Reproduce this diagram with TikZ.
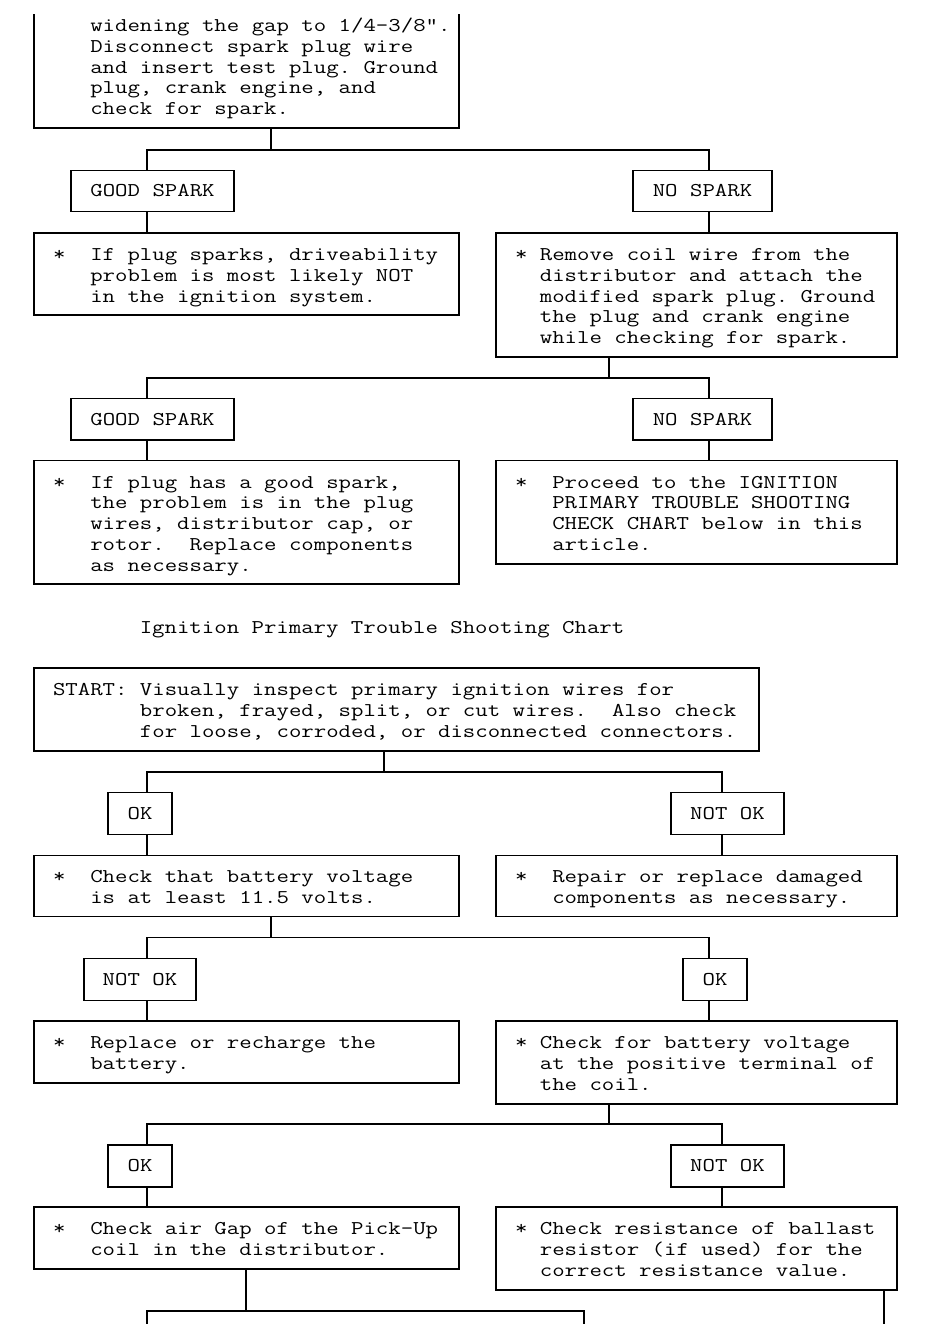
\documentclass[tikz,border=0pt]{standalone}
\usepackage{fontspec}
\setmonofont{Latin Modern Mono}[FakeStretch=1.237]
\newcommand\chartfont{\ttfamily\fontsize{19.5}{20.8}\selectfont\frenchspacing\lineskiplimit=-100pt}
\newcommand\topstrut{\rule{0pt}{16pt}}
\tikzset{
  conn/.style={line width=1.4pt, line cap=rect},
  box/.style={draw, line width=1.4pt, rectangle, inner sep=0pt, outer sep=0pt, anchor=north west},
  lbl/.style={box, font=\chartfont, text height=11.9pt, text depth=0pt},
  txt/.style={anchor=north west, inner sep=0pt, outer sep=0pt, align=left, font=\chartfont},
}
\begin{document}
\begin{tikzpicture}[x=1pt,y=-1pt]
\fill[white] (0,0) rectangle (946,1324);
\useasboundingbox (0,0) rectangle (946,1324);

% ---------- top part ----------
\node[inner sep=0pt, outer sep=0pt, anchor=north west, minimum width=425, minimum height=124] (b0) at (34,4) {};
\draw[conn] ([yshift=-11pt]b0.north west) -- (b0.south west) -- (b0.south east) -- ([yshift=-11pt]b0.north east);
\node[txt] (t0) at ([shift={(19,11.5)}]b0.north west) {\topstrut~~~widening the gap to 1/4-3/8".\\
~~~Disconnect spark plug wire\\
~~~and insert test plug. Ground\\
~~~plug, crank engine, and\\
~~~check for spark.};

\node[lbl, minimum width=163, minimum height=41] (gsA) at (71,170.5) {GOOD SPARK};
\node[lbl, minimum width=139, minimum height=41] (nsA) at (633,170.5) {NO SPARK};

\node[box, minimum width=425, minimum height=82] (b1) at (34,233) {};
\node[txt] (t1) at ([shift={(19,11.5)}]b1.north west) {\topstrut*~~If plug sparks, driveability\\
~~~problem is most likely NOT\\
~~~in the ignition system.};

\node[box, minimum width=401, minimum height=124] (b2) at (496,233) {};
\node[txt] (t2) at ([shift={(19,11.5)}]b2.north west) {\topstrut*~Remove coil wire from the\\
~~distributor and attach the\\
~~modified spark plug. Ground\\
~~the plug and crank engine\\
~~while checking for spark.};

\coordinate (jA) at (271,150);
\coordinate (jAl) at (147,150);
\coordinate (jAr) at (709,150);
\draw[conn] (b0.south -| jA) -- (jA);
\draw[conn] (gsA.north -| jAl) |- (jAr) -- (nsA.north -| jAr);
\draw[conn] (gsA.south -| jAl) -- (b1.north -| jAl);
\draw[conn] (nsA.south -| jAr) -- (b2.north -| jAr);

\node[lbl, minimum width=163, minimum height=41.5] (gsB) at (71,398.5) {GOOD SPARK};
\node[lbl, minimum width=139, minimum height=41.5] (nsB) at (633,398.5) {NO SPARK};

\node[box, minimum width=425, minimum height=123.5] (b3) at (34,460.5) {};
\node[txt] (t3) at ([shift={(19,11.5)}]b3.north west) {\topstrut*~~If plug has a good spark,\\
~~~the problem is in the plug\\
~~~wires, distributor cap, or\\
~~~rotor.~~Replace components\\
~~~as necessary.};

\node[box, minimum width=401, minimum height=103.5] (b4) at (496,460.5) {};
\node[txt] (t4) at ([shift={(19,11.5)}]b4.north west) {\topstrut*~~Proceed to the IGNITION\\
~~~PRIMARY TROUBLE SHOOTING\\
~~~CHECK CHART below in this\\
~~~article.};

\coordinate (jB) at (609,378);
\coordinate (jBl) at (147,378);
\coordinate (jBr) at (709,378);
\draw[conn] (b2.south -| jB) -- (jB);
\draw[conn] (gsB.north -| jBl) |- (jBr) -- (nsB.north -| jBr);
\draw[conn] (gsB.south -| jBl) -- (b3.north -| jBl);
\draw[conn] (nsB.south -| jBr) -- (b4.north -| jBr);

% ---------- title ----------
\node[anchor=base west, inner sep=0pt, font=\chartfont] (title) at (139.6,633.3) {Ignition Primary Trouble Shooting Chart};

% ---------- second chart ----------
\node[box, minimum width=725, minimum height=83] (b5) at (34,668) {};
\node[txt] (t5) at ([shift={(19,11.5)}]b5.north west) {\topstrut START: Visually inspect primary ignition wires for\\
~~~~~~~broken, frayed, split, or cut wires.~~Also check\\
~~~~~~~for loose, corroded, or disconnected connectors.};

\node[lbl, minimum width=64, minimum height=41.5] (okA) at (108,792.7) {OK};
\node[lbl, minimum width=113, minimum height=41.5] (nokA) at (671,792.7) {NOT OK};

\node[box, minimum width=425, minimum height=61.4] (b6) at (34,855.3) {};
\node[txt] (t6) at ([shift={(19,11.5)}]b6.north west) {\topstrut*~~Check that battery voltage\\
~~~is at least 11.5 volts.};

\node[box, minimum width=401, minimum height=61.4] (b7) at (496,855.3) {};
\node[txt] (t7) at ([shift={(19,11.5)}]b7.north west) {\topstrut*~~Repair or replace damaged\\
~~~components as necessary.};

\coordinate (jC) at (384,772);
\coordinate (jCl) at (147,772);
\coordinate (jCr) at (722,772);
\draw[conn] (b5.south -| jC) -- (jC);
\draw[conn] (okA.north -| jCl) |- (jCr) -- (nokA.north -| jCr);
\draw[conn] (okA.south -| jCl) -- (b6.north -| jCl);
\draw[conn] (nokA.south -| jCr) -- (b7.north -| jCr);

\node[lbl, minimum width=112, minimum height=41.5] (nokB) at (84,958.7) {NOT OK};
\node[lbl, minimum width=64, minimum height=41.5] (okB) at (683,958.7) {OK};

\node[box, minimum width=425, minimum height=62] (b8) at (34,1021) {};
\node[txt] (t8) at ([shift={(19,11.5)}]b8.north west) {\topstrut*~~Replace or recharge the\\
~~~battery.};

\node[box, minimum width=401, minimum height=83] (b9) at (496,1021) {};
\node[txt] (t9) at ([shift={(19,11.5)}]b9.north west) {\topstrut*~Check for battery voltage\\
~~at the positive terminal of\\
~~the coil.};

\coordinate (jD) at (271,937.7);
\coordinate (jDl) at (147,937.7);
\coordinate (jDr) at (709,937.7);
\draw[conn] (b6.south -| jD) -- (jD);
\draw[conn] (nokB.north -| jDl) |- (jDr) -- (okB.north -| jDr);
\draw[conn] (nokB.south -| jDl) -- (b8.north -| jDl);
\draw[conn] (okB.south -| jDr) -- (b9.north -| jDr);

\node[lbl, minimum width=64, minimum height=42] (okC) at (108,1145) {OK};
\node[lbl, minimum width=113, minimum height=42] (nokC) at (671,1145) {NOT OK};

\node[box, minimum width=425, minimum height=62] (b10) at (34,1207) {};
\node[txt] (t10) at ([shift={(19,11.5)}]b10.north west) {\topstrut*~~Check air Gap of the Pick-Up\\
~~~coil in the distributor.};

\node[box, minimum width=401, minimum height=83] (b11) at (496,1207) {};
\node[txt] (t11) at ([shift={(19,11.5)}]b11.north west) {\topstrut*~Check resistance of ballast\\
~~resistor (if used) for the\\
~~correct resistance value.};

\coordinate (jE) at (609,1124);
\coordinate (jEl) at (147,1124);
\coordinate (jEr) at (722,1124);
\draw[conn] (b9.south -| jE) -- (jE);
\draw[conn] (okC.north -| jEl) |- (jEr) -- (nokC.north -| jEr);
\draw[conn] (okC.south -| jEl) -- (b10.north -| jEl);
\draw[conn] (nokC.south -| jEr) -- (b11.north -| jEr);

% ---------- continuing connectors ----------
\coordinate (jF) at (246,1311);
\coordinate (jFl) at (147,1311);
\coordinate (jFr) at (584,1311);
\coordinate (e1) at (147,1326);
\coordinate (e2) at (584,1326);
\coordinate (e3) at (884,1326);
\draw[conn] (b10.south -| jF) -- (jF);
\draw[conn] (e1) -- (jFl) -- (jFr) -- (e2);
\draw[conn] (b11.south -| e3) -- (e3);
\end{tikzpicture}
\end{document}
